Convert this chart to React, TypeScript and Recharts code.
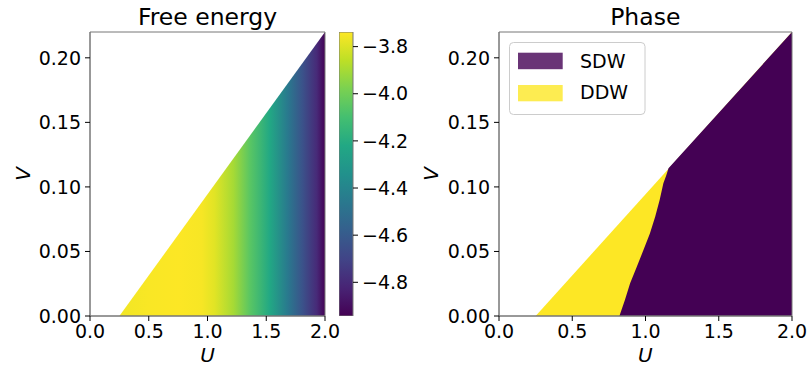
import { ComposedChart, Area, Bar, XAxis, YAxis, ReferenceArea } from "recharts";

// free energy along U (colour barely changes with V)
const freeU = [0.25, 0.5, 0.75, 0.95, 1.06, 1.22, 1.36, 1.53, 1.68, 1.81, 1.93, 2.0];
const freeF = [-3.76, -3.745, -3.74, -3.75, -3.79, -3.9, -4.05, -4.22, -4.45, -4.64, -4.8, -4.94];

// upper edge of the computed region, same in both panels
const edgeU = [0.25, 2.0];
const edgeV = [0, 0.22];

// SDW / DDW boundary, SDW lies to the right
const phaseU = [0.822, 0.86, 0.895, 0.94, 0.986, 1.03, 1.066, 1.097, 1.122, 1.142, 1.157, 2.0];
const phaseV = [0, 0.0125, 0.0253, 0.038, 0.0511, 0.064, 0.0769, 0.09, 0.1028, 0.109, 0.1145, 0.22];

const uTicks = [0, 0.5, 1, 1.5, 2];
const vTicks = [0, 0.05, 0.1, 0.15, 0.2];
const cbarTicks = [-4.8, -4.6, -4.4, -4.2, -4.0, -3.8];
const cbarRange = [-4.943, -3.738];

const viridis = [
  "#440154", "#482475", "#414487", "#355f8d", "#2a788e", "#21918c",
  "#22a884", "#44bf70", "#7ad151", "#bddf26", "#fde725",
];

const FONT = "DejaVu Sans";
const SPINE = "#777";
const tickStyle = { fontSize: 19, fill: "#000", fontFamily: FONT };

function hex(c: string) {
  return [1, 3, 5].map((i) => parseInt(c.slice(i, i + 2), 16));
}

function cmap(t: number) {
  const s = Math.min(Math.max(t, 0), 1) * (viridis.length - 1);
  const i = Math.min(Math.floor(s), viridis.length - 2);
  const f = s - i;
  const a = hex(viridis[i]);
  const b = hex(viridis[i + 1]);
  return `rgb(${a.map((v, k) => Math.round(v + (b[k] - v) * f)).join(",")})`;
}

const edgeRows = edgeU.map((u, i) => ({ u, v: edgeV[i] }));
const cbarRows = [{ name: "cbar", range: cbarRange }];

// merge the two phase series on one U grid
const phaseMap = new Map<number, { u: number; ddw?: number; sdw?: number }>();
edgeU.forEach((u, i) => phaseMap.set(u, { ...(phaseMap.get(u) || { u }), ddw: edgeV[i] }));
phaseU.forEach((u, i) => phaseMap.set(u, { ...(phaseMap.get(u) || { u }), sdw: phaseV[i] }));
const phaseRows = [...phaseMap.values()].sort((a, b) => a.u - b.u);

const fmtU = (v: number) => v.toFixed(1);
const fmtV = (v: number) => v.toFixed(2);
const fmtF = (v: number) => v.toFixed(1).replace("-", "\u2212");

export default function App() {
  const span = edgeU[1] - edgeU[0];
  const fspan = cbarRange[1] - cbarRange[0];
  return (
    <div style={{ position: "absolute", left: 0, top: 0, width: 810, height: 372, background: "#fff" }}>
      {/* free energy */}
      <div style={{ position: "absolute", left: 0, top: 0 }}>
        <ComposedChart width={345} height={372} data={edgeRows} margin={{ top: 32, right: 20, bottom: 0, left: 0 }}>
          <defs>
            <linearGradient id="fe" x1="0" y1="0" x2="1" y2="0">
              {freeU.map((u, i) => (
                <stop
                  key={u}
                  offset={(u - edgeU[0]) / span}
                  stopColor={cmap((freeF[i] - cbarRange[0]) / fspan)}
                />
              ))}
            </linearGradient>
          </defs>
          <XAxis
            dataKey="u" type="number" domain={[0, 2]} ticks={uTicks} tickFormatter={fmtU}
            height={56} tick={tickStyle} tickSize={5} tickMargin={4}
            axisLine={{ stroke: SPINE }} tickLine={{ stroke: "#000" }} interval={0}
          />
          <YAxis
            type="number" domain={[0, 0.22]} ticks={vTicks} tickFormatter={fmtV}
            width={90} tick={tickStyle} tickSize={5} tickMargin={4}
            axisLine={{ stroke: SPINE }} tickLine={{ stroke: "#000" }} interval={0}
          />
          <Area
            dataKey="v" type="linear" stroke="none" fill="url(#fe)" fillOpacity={1}
            isAnimationActive={false} activeDot={false}
          />
          <ReferenceArea x1={0} x2={2} y1={0} y2={0.22} fill="none" stroke={SPINE} strokeWidth={1} />
        </ComposedChart>
      </div>

      {/* colorbar */}
      <div style={{ position: "absolute", left: 339, top: 0 }}>
        <ComposedChart
          width={74} height={372} data={cbarRows}
          margin={{ top: 32, right: 0, bottom: 56, left: 0 }}
          barCategoryGap={0}
        >
          <defs>
            <linearGradient id="cb" x1="0" y1="1" x2="0" y2="0">
              {viridis.map((c, i) => (
                <stop key={c} offset={i / (viridis.length - 1)} stopColor={c} />
              ))}
            </linearGradient>
          </defs>
          <XAxis dataKey="name" type="category" hide padding={{ left: 0, right: 0 }} />
          <YAxis
            orientation="right" type="number" domain={cbarRange} ticks={cbarTicks} tickFormatter={fmtF}
            width={60} tick={tickStyle} tickSize={5} tickMargin={4}
            axisLine={false} tickLine={{ stroke: "#000" }} interval={0} allowDataOverflow
          />
          <Bar
            dataKey="range" fill="url(#cb)" stroke={SPINE} strokeWidth={1}
            isAnimationActive={false}
          />
        </ComposedChart>
      </div>

      {/* phase */}
      <div style={{ position: "absolute", left: 410, top: 0 }}>
        <ComposedChart width={400} height={372} data={phaseRows} margin={{ top: 32, right: 18, bottom: 0, left: 0 }}>
          <XAxis
            dataKey="u" type="number" domain={[0, 2]} ticks={uTicks} tickFormatter={fmtU}
            height={56} tick={tickStyle} tickSize={5} tickMargin={4}
            axisLine={{ stroke: SPINE }} tickLine={{ stroke: "#000" }} interval={0}
          />
          <YAxis
            type="number" domain={[0, 0.22]} ticks={vTicks} tickFormatter={fmtV}
            width={89} tick={tickStyle} tickSize={5} tickMargin={4}
            axisLine={{ stroke: SPINE }} tickLine={{ stroke: "#000" }} interval={0}
          />
          <Area
            dataKey="ddw" name="DDW" type="linear" stroke="none" fill="#fde725" fillOpacity={1}
            connectNulls isAnimationActive={false} activeDot={false}
          />
          <Area
            dataKey="sdw" name="SDW" type="linear" stroke="none" fill="#440154" fillOpacity={1}
            connectNulls isAnimationActive={false} activeDot={false}
          />
          <ReferenceArea x1={0} x2={2} y1={0} y2={0.22} fill="none" stroke={SPINE} strokeWidth={1} />
        </ComposedChart>
      </div>

      {/* titles, axis labels, legend */}
      <svg
        width={810} height={372}
        style={{ position: "absolute", left: 0, top: 0, pointerEvents: "none" }}
        fontFamily={FONT}
      >
        <text x={207.5} y={25} fontSize={23.5} textAnchor="middle">Free energy</text>
        <text x={645.3} y={25} fontSize={23.5} textAnchor="middle">Phase</text>
        <text x={207.5} y={362} fontSize={20} fontStyle="italic" textAnchor="middle">U</text>
        <text x={645.3} y={362} fontSize={20} fontStyle="italic" textAnchor="middle">U</text>
        <text x={30} y={174} fontSize={20} fontStyle="italic" textAnchor="middle" transform="rotate(-90 30 174)">V</text>
        <text x={438} y={174} fontSize={20} fontStyle="italic" textAnchor="middle" transform="rotate(-90 438 174)">V</text>

        <rect x={509.5} y={42.5} width={135.5} height={72} rx={4} fill="#fff" fillOpacity={0.8} stroke="#ccc" />
        <rect x={518} y={52.7} width={44.7} height={16.5} fill="#440154" fillOpacity={0.8} />
        <rect x={518} y={85} width={44.7} height={16.3} fill="#fde725" fillOpacity={0.8} />
        <text x={580} y={68.3} fontSize={19}>SDW</text>
        <text x={580} y={99.3} fontSize={19}>DDW</text>
      </svg>
    </div>
  );
}
